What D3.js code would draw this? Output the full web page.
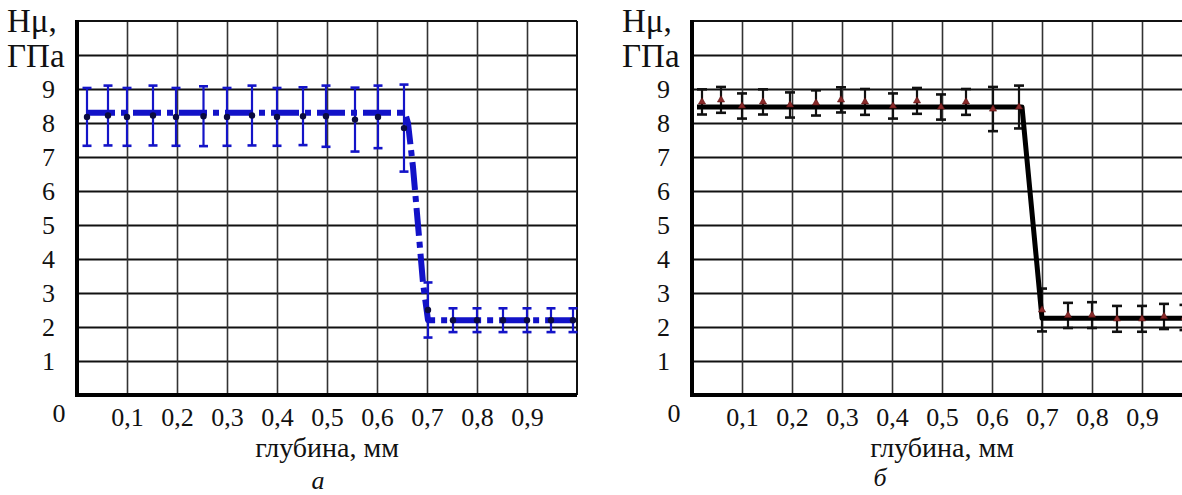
<!DOCTYPE html>
<html><head><meta charset="utf-8">
<script src="https://cdn.jsdelivr.net/npm/d3@7"></script>
<style>body{margin:0;background:#fff}svg{display:block}text{font-family:"Liberation Serif","Times New Roman",serif;fill:#111}</style>
</head><body><svg id="c" width="1182" height="495"></svg>
<script>
// ---- data ----
const yTicks = [1, 2, 3, 4, 5, 6, 7, 8, 9];
const yGrid = [1, 2, 3, 4, 5, 6, 7, 8, 9, 10];
const xTicks = [0.1, 0.2, 0.3, 0.4, 0.5, 0.6, 0.7, 0.8, 0.9];
const yTitleLines = ["Hμ,", "ГПа"];
const xTitle = "глубина, мм";
const panelLetters = ["а", "б"];

// panel a (blue, dash-dot)
const depthA = [0.02, 0.062, 0.1, 0.152, 0.198, 0.253, 0.3, 0.35, 0.4, 0.452, 0.498, 0.556, 0.602, 0.654, 0.702, 0.752, 0.8, 0.852, 0.9, 0.948, 0.992];
const hardA  = [8.18, 8.22, 8.18, 8.22, 8.18, 8.2, 8.18, 8.22, 8.18, 8.2, 8.2, 8.1, 8.18, 7.85, 2.5, 2.2, 2.2, 2.2, 2.2, 2.2, 2.2];
const errA   = [0.85, 0.88, 0.85, 0.88, 0.85, 0.88, 0.85, 0.88, 0.85, 0.85, 0.9, 0.94, 0.92, 1.28, 0.81, 0.35, 0.35, 0.35, 0.35, 0.35, 0.35];
const fitDepthA = [0.02, 0.656, 0.662, 0.672, 0.692, 0.702, 1.0];
const fitHardA  = [8.3, 8.3, 8.0, 6.7, 3.3, 2.2, 2.2];

// panel b (black solid, red triangles)
const depthB = [0.02, 0.058, 0.1, 0.142, 0.196, 0.248, 0.298, 0.346, 0.402, 0.45, 0.498, 0.548, 0.602, 0.654, 0.7, 0.752, 0.8, 0.85, 0.9, 0.944, 0.985];
const hardB  = [8.62, 8.68, 8.5, 8.62, 8.53, 8.59, 8.68, 8.62, 8.5, 8.65, 8.47, 8.62, 8.41, 8.47, 2.5, 2.34, 2.35, 2.24, 2.24, 2.31, 2.28];
const errB   = [0.37, 0.38, 0.37, 0.37, 0.37, 0.37, 0.37, 0.38, 0.37, 0.38, 0.37, 0.38, 0.65, 0.63, 0.63, 0.37, 0.38, 0.38, 0.38, 0.37, 0.37];
const fitDepthB = [0.01, 0.66, 0.7, 1.0];
const fitHardB  = [8.47, 8.47, 2.26, 2.26];

// ---- drawing ----
const svg = d3.select("#c");
const loc = d3.formatLocale({decimal: ",", thousands: " ", grouping: [3], currency: ["", ""]});
const fmt = loc.format(".1f");

const W = 500, TOP = 21, BOT = 395;
const y = d3.scaleLinear().domain([0, 11]).range([BOT, TOP]);
const x = d3.scaleLinear().domain([0, 1]).range([0, W]);
const FONT = '"Liberation Serif","Times New Roman",serif';

function drawPanel(cfg) {
  const g = svg.append("g").attr("transform", `translate(${cfg.left},0)`);

  // horizontal grid
  const hg = g.append("g").call(d3.axisLeft(y).tickValues(yGrid).tickSize(-W).tickFormat(""));
  hg.select(".domain").remove();
  hg.selectAll("line").attr("stroke", "#111").attr("stroke-width", 2);
  // vertical grid
  const vg = g.append("g").attr("transform", `translate(0,${BOT})`)
    .call(d3.axisBottom(x).tickValues(xTicks).tickSize(-(BOT - TOP)).tickFormat(""));
  vg.select(".domain").remove();
  vg.selectAll("line").attr("stroke", "#333").attr("stroke-width", 1.6);

  // frame: top & right
  g.append("line").attr("x1", x(0)).attr("x2", x(1)).attr("y1", y(11)).attr("y2", y(11)).attr("stroke", "#111").attr("stroke-width", 2);
  g.append("line").attr("x1", x(1)).attr("x2", x(1)).attr("y1", y(0)).attr("y2", y(11)).attr("stroke", "#111").attr("stroke-width", 2);

  // y labels
  const yl = g.append("g").call(d3.axisLeft(y).tickValues(yTicks).tickSize(0).tickPadding(22).tickFormat(d3.format("d")));
  yl.select(".domain").remove();
  yl.selectAll("text").attr("font-size", 26).attr("fill", "#111").attr("font-family", FONT);
  g.append("text").attr("x", -18).attr("y", y(0) + 27).attr("text-anchor", "middle").attr("font-size", 26).text(fmt(0).replace(",0", ""));

  // x labels
  const xl = g.append("g").attr("transform", `translate(0,${BOT})`)
    .call(d3.axisBottom(x).tickValues(xTicks).tickSize(0).tickPadding(cfg.xlabPad).tickFormat(fmt));
  xl.select(".domain").remove();
  xl.selectAll("text").attr("font-size", 26).attr("fill", "#111").attr("font-family", FONT);

  // thick left & bottom axes
  g.append("line").attr("x1", x(0)).attr("x2", x(0)).attr("y1", y(11) - 1).attr("y2", y(0) + 2).attr("stroke", "#000").attr("stroke-width", 4);
  g.append("line").attr("x1", x(0) - 2).attr("x2", x(1)).attr("y1", y(0)).attr("y2", y(0)).attr("stroke", "#000").attr("stroke-width", 4);

  // y title
  yTitleLines.forEach((t, i) => {
    g.append("text").attr("x", -70).attr("y", i === 0 ? 32 : 67).attr("font-size", 33).text(t);
  });
  // x title
  g.append("text").attr("x", x(0.5)).attr("y", 457).attr("text-anchor", "middle").attr("font-size", 28).text(xTitle);
  g.append("text").attr("x", cfg.letterX).attr("y", cfg.letterY).attr("text-anchor", "middle")
    .attr("font-size", 26).attr("font-style", "italic").text(cfg.letter);

  const pts = cfg.depth.map((d, i) => ({d, h: cfg.hard[i], e: cfg.err[i]}));
  // error bars
  const eb = g.append("g").attr("stroke", cfg.barColor).attr("stroke-width", 2.2);
  pts.forEach(p => {
    eb.append("line").attr("x1", x(p.d)).attr("x2", x(p.d)).attr("y1", y(p.h + p.e)).attr("y2", y(p.h - p.e));
    [p.h + p.e, p.h - p.e].forEach(v => eb.append("line")
      .attr("x1", x(p.d) - cfg.cap).attr("x2", x(p.d) + cfg.cap).attr("y1", y(v)).attr("y2", y(v)).attr("stroke-width", 2.6));
  });
  // fit line
  const fit = cfg.fitD.map((d, i) => [d, cfg.fitH[i]]);
  g.append("path").datum(fit)
    .attr("d", d3.line().x(d => x(d[0])).y(d => y(d[1])))
    .attr("fill", "none").attr("stroke", cfg.lineColor).attr("stroke-width", cfg.lineW)
    .attr("stroke-dasharray", cfg.dash).attr("stroke-linejoin", "round");
  // markers
  if (cfg.marker === "dot") {
    g.append("g").selectAll("circle").data(pts).join("circle")
      .attr("cx", p => x(p.d)).attr("cy", p => y(p.h)).attr("r", 3.2).attr("fill", "#0b0b40");
  } else {
    const sym = d3.symbol().type(d3.symbolTriangle).size(22);
    g.append("g").selectAll("path").data(pts).join("path")
      .attr("transform", p => `translate(${x(p.d)},${y(p.h)})`).attr("d", sym)
      .attr("fill", "#8a2a2a").attr("stroke", "#5a1010").attr("stroke-width", 0.6);
  }
}

drawPanel({left: 77, depth: depthA, hard: hardA, err: errA, fitD: fitDepthA, fitH: fitHardA,
  barColor: "#1414c8", lineColor: "#1212c8", lineW: 6, dash: "28,6,6,6", cap: 4.5, marker: "dot",
  xlabPad: 13, letter: panelLetters[0], letterX: 241, letterY: 489});
drawPanel({left: 692, depth: depthB, hard: hardB, err: errB, fitD: fitDepthB, fitH: fitHardB,
  barColor: "#111", lineColor: "#000", lineW: 5, dash: null, cap: 5, marker: "tri",
  xlabPad: 13, letter: panelLetters[1], letterX: 188, letterY: 486});
</script></body></html>
